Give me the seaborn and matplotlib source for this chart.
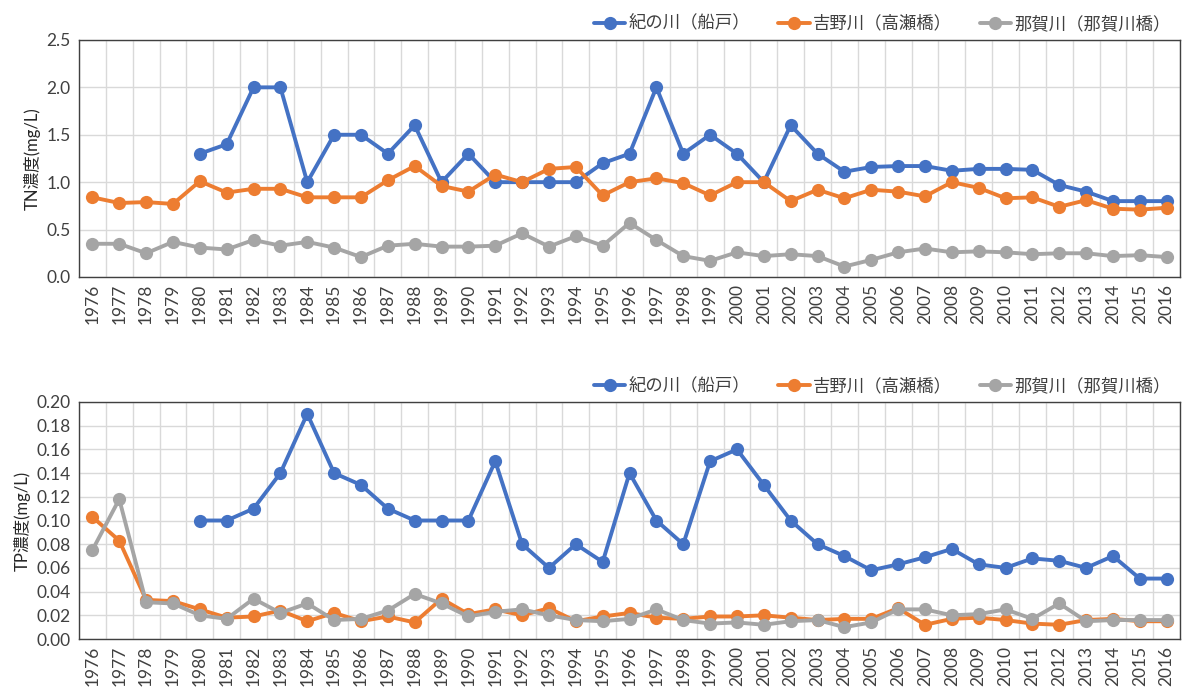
import numpy as np
import pandas as pd
import seaborn as sns
import matplotlib.pyplot as plt
from matplotlib.ticker import FormatStrFormatter, MultipleLocator

# データ
years = list(range(1976, 2017))
rivers = ['紀の川（船戸）', '吉野川（高瀬橋）', '那賀川（那賀川橋）']
colors = ['#4472C4', '#ED7D31', '#A5A5A5']

tn_kinokawa = [np.nan, np.nan, np.nan, np.nan,
               1.3, 1.4, 2.0, 2.0, 1.0, 1.5, 1.5, 1.3, 1.6, 1.0, 1.3, 1.0, 1.0, 1.0, 1.0,
               1.2, 1.3, 2.0, 1.3, 1.5, 1.3, 1.0, 1.6, 1.3, 1.11, 1.16, 1.17, 1.17, 1.12,
               1.14, 1.14, 1.13, 0.97, 0.90, 0.80, 0.80, 0.80]
tn_yoshino = [0.84, 0.78, 0.79, 0.77, 1.01, 0.89, 0.93, 0.93, 0.84, 0.84, 0.84, 1.02, 1.17,
              0.96, 0.90, 1.08, 1.00, 1.14, 1.16, 0.86, 1.00, 1.04, 0.99, 0.86, 1.00, 1.00,
              0.80, 0.92, 0.83, 0.92, 0.90, 0.85, 1.00, 0.94, 0.83, 0.84, 0.74, 0.81, 0.72,
              0.71, 0.73]
tn_naka = [0.35, 0.35, 0.25, 0.37, 0.31, 0.29, 0.39, 0.33, 0.37, 0.31, 0.21, 0.33, 0.35,
           0.32, 0.32, 0.33, 0.46, 0.32, 0.43, 0.33, 0.57, 0.39, 0.22, 0.17, 0.26, 0.22,
           0.24, 0.22, 0.11, 0.18, 0.26, 0.30, 0.26, 0.27, 0.26, 0.24, 0.25, 0.25, 0.22,
           0.23, 0.21]

tp_kinokawa = [np.nan, np.nan, np.nan, np.nan,
               0.100, 0.100, 0.110, 0.140, 0.190, 0.140, 0.130, 0.110, 0.100, 0.100, 0.100,
               0.150, 0.080, 0.060, 0.080, 0.065, 0.140, 0.100, 0.080, 0.150, 0.160, 0.130,
               0.100, 0.080, 0.070, 0.058, 0.063, 0.069, 0.076, 0.063, 0.060, 0.068, 0.066,
               0.060, 0.070, 0.051, 0.051]
tp_yoshino = [0.103, 0.083, 0.033, 0.032, 0.025, 0.018, 0.019, 0.024, 0.015, 0.022, 0.015,
              0.019, 0.014, 0.034, 0.021, 0.025, 0.020, 0.026, 0.015, 0.019, 0.022, 0.018,
              0.017, 0.019, 0.019, 0.020, 0.018, 0.016, 0.017, 0.017, 0.026, 0.012, 0.017,
              0.018, 0.016, 0.013, 0.012, 0.016, 0.017, 0.015, 0.015]
tp_naka = [0.075, 0.118, 0.031, 0.030, 0.020, 0.017, 0.034, 0.022, 0.030, 0.016, 0.017,
           0.024, 0.038, 0.030, 0.019, 0.023, 0.025, 0.020, 0.016, 0.015, 0.017, 0.025,
           0.016, 0.013, 0.014, 0.012, 0.015, 0.016, 0.010, 0.014, 0.025, 0.025, 0.020,
           0.021, 0.025, 0.017, 0.030, 0.015, 0.016, 0.016, 0.016]


def to_long(series):
    frames = []
    for name, vals in zip(rivers, series):
        frames.append(pd.DataFrame({'年': years, '値': vals, '地点': name}))
    return pd.concat(frames, ignore_index=True).dropna()


sns.set_theme(style='white')
plt.rcParams['font.family'] = ['Lato', 'Noto Sans CJK JP', 'DejaVu Sans']
plt.rcParams['text.color'] = '#404040'
plt.rcParams['xtick.color'] = '#404040'
plt.rcParams['ytick.color'] = '#404040'

fig = plt.figure(figsize=(11.84, 6.90), dpi=100)
ax1 = fig.add_axes([0.0667, 0.5986, 0.93, 0.3435])
ax2 = fig.add_axes([0.0667, 0.0739, 0.93, 0.3435])


def draw(ax, series, ylabel, ymax, step, fmt):
    df = to_long(series)
    sns.lineplot(data=df, x='年', y='値', hue='地点', hue_order=rivers, palette=colors,
                 marker='o', markersize=9.5, markeredgewidth=0, linewidth=2.8, ax=ax)
    ax.set_xlim(years[0] - 0.5, years[-1] + 0.5)
    ax.set_ylim(0, ymax)
    ax.set_xticks(years)
    ax.set_xticklabels([str(y) for y in years], rotation=90, fontsize=12.5)
    ax.xaxis.set_minor_locator(MultipleLocator(1, offset=0.5))
    ax.yaxis.set_major_locator(MultipleLocator(step))
    ax.yaxis.set_major_formatter(FormatStrFormatter(fmt))
    ax.tick_params(axis='y', labelsize=12.5, pad=6)
    ax.tick_params(axis='x', pad=5)
    ax.tick_params(which='both', length=0)
    ax.grid(True, which='major', axis='y', color='#D9D9D9', linewidth=1)
    ax.grid(True, which='minor', axis='x', color='#D9D9D9', linewidth=1)
    ax.set_axisbelow(True)
    for s in ax.spines.values():
        s.set_color('#404040')
        s.set_linewidth(1)
    ax.set_xlabel('')
    ax.set_ylabel(ylabel, fontsize=12, labelpad=4)
    ax.legend(loc='lower right', bbox_to_anchor=(0.998, 1.005), ncol=3, frameon=False,
              fontsize=12.5, handlelength=1.8, columnspacing=1.6, handletextpad=0.2,
              borderaxespad=0)


draw(ax1, [tn_kinokawa, tn_yoshino, tn_naka], 'TN濃度(mg/L)', 2.5, 0.5, '%.1f')
draw(ax2, [tp_kinokawa, tp_yoshino, tp_naka], 'TP濃度(mg/L)', 0.20, 0.02, '%.2f')

fig.savefig('out.png', dpi=100)
